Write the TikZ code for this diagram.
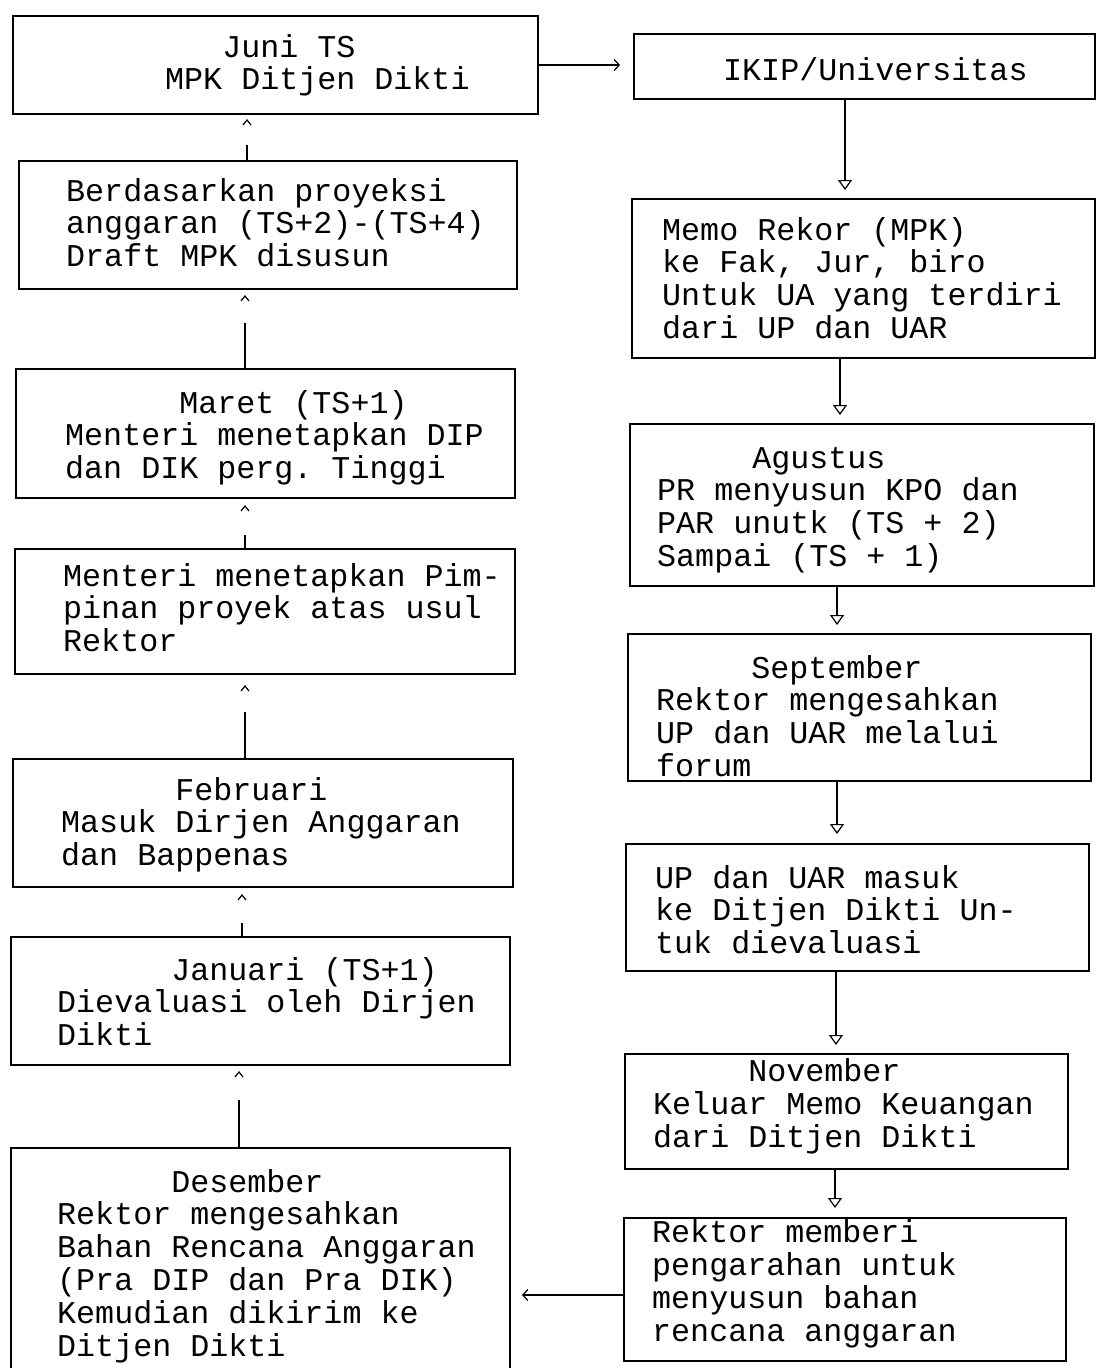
\documentclass[tikz,border=0pt]{standalone}
\usepackage{fontspec}
\newfontfamily\monofnt{Liberation Mono}
\usetikzlibrary{arrows.meta}
\frenchspacing
\tikzset{
  box/.style={draw, line width=1.6pt, inner sep=0pt, anchor=north west},
  txt/.style={font=\monofnt\frenchspacing\fontsize{31.7}{32.8}\selectfont, align=left, inner sep=0pt, anchor=base west},
  conn/.style={line width=1.3pt},
  darr/.style={line width=1.3pt, -{Triangle[open, length=10pt, width=14pt, line width=1.2pt]}},
  harr/.style={line width=1.3pt, -{Straight Barb[length=5pt, width=11pt, line width=1.2pt]}},
  caret/.style={line width=1.2pt},
}
\newcommand\ind[1]{\hspace*{#1\dimexpr0.6em\relax}}
\begin{document}
\begin{tikzpicture}[x=1pt,y=-1pt]
\useasboundingbox (0,0) rectangle (1096,1368);
% left column boxes
\node[box, minimum width=525pt, minimum height=98pt]  (b1) at (12,15) {};
\node[box, minimum width=498pt, minimum height=128pt] (b2) at (18,160) {};
\node[box, minimum width=499pt, minimum height=129pt] (b3) at (15,368) {};
\node[box, minimum width=500pt, minimum height=125pt] (b4) at (14,548) {};
\node[box, minimum width=500pt, minimum height=128pt] (b5) at (12,758) {};
\node[box, minimum width=499pt, minimum height=128pt] (b6) at (10,936) {};
\node[box, minimum width=499pt, minimum height=245pt] (b7) at (10,1147) {};
% right column boxes
\node[box, minimum width=461pt, minimum height=65pt]  (r1) at (633,33) {};
\node[box, minimum width=463pt, minimum height=159pt] (r2) at (631,198) {};
\node[box, minimum width=464pt, minimum height=162pt] (r3) at (629,423) {};
\node[box, minimum width=463pt, minimum height=147pt] (r4) at (627,633) {};
\node[box, minimum width=463pt, minimum height=127pt] (r5) at (625,843) {};
\node[box, minimum width=443pt, minimum height=115pt] (r6) at (624,1053) {};
\node[box, minimum width=442pt, minimum height=143pt] (r7) at (623,1217) {};
% texts (anchored at the baseline of the last line)
\node[txt] (t1) at (165,89.8) {\ind{3}Juni TS\\MPK Ditjen Dikti};
\node[txt] (t2) at (66,266.6) {Berdasarkan proyeksi\\anggaran (TS+2)-(TS+4)\\Draft MPK disusun};
\node[txt] (t3) at (65,478.6) {\ind{6}Maret (TS+1)\\Menteri menetapkan DIP\\dan DIK perg. Tinggi};
\node[txt] (t4) at (63,651.6) {Menteri menetapkan Pim-\\pinan proyek atas usul\\Rektor};
\node[txt] (t5) at (61,865.6) {\ind{6}Februari\\Masuk Dirjen Anggaran\\dan Bappenas};
\node[txt] (t6) at (57,1045.6) {\ind{6}Januari (TS+1)\\Dievaluasi oleh Dirjen\\Dikti};
\node[txt] (t7) at (57,1356) {\ind{6}Desember\\Rektor mengesahkan\\Bahan Rencana Anggaran\\(Pra DIP dan Pra DIK)\\Kemudian dikirim ke\\Ditjen Dikti};
\node[txt] (s1) at (723,80) {IKIP/Universitas};
\node[txt] (s2) at (662,338.4) {Memo Rekor (MPK)\\ke Fak, Jur, biro\\Untuk UA yang terdiri\\dari UP dan UAR};
\node[txt] (s3) at (657,566.4) {\ind{5}Agustus\\PR menyusun KPO dan\\PAR unutk (TS + 2)\\Sampai (TS + 1)};
\node[txt] (s4) at (656,776.4) {\ind{5}September\\Rektor mengesahkan\\UP dan UAR melalui\\forum};
\node[txt] (s5) at (655,953.6) {UP dan UAR masuk\\ke Ditjen Dikti Un-\\tuk dievaluasi};
\node[txt] (s6) at (653,1147) {\ind{5}November\\Keluar Memo Keuangan\\dari Ditjen Dikti};
\node[txt] (s7) at (652,1341) {Rektor memberi\\pengarahan untuk\\menyusun bahan\\rencana anggaran};
% horizontal connectors
\coordinate (h1) at (620,65);
\draw[harr] (b1.east |- h1) -- (h1);
\coordinate (h2) at (522,1295);
\draw[harr] (r7.west |- h2) -- (h2);
% right column connectors
\coordinate (a12) at (845,190);
\coordinate (a23) at (840,415);
\coordinate (a34) at (837,625);
\coordinate (a45) at (837,834);
\coordinate (a56) at (836,1045);
\coordinate (a67) at (835,1208);
\draw[darr] (r1.south -| a12) -- (a12);
\draw[darr] (r2.south -| a23) -- (a23);
\draw[darr] (r3.south -| a34) -- (a34);
\draw[darr] (r4.south -| a45) -- (a45);
\draw[darr] (r5.south -| a56) -- (a56);
\draw[darr] (r6.south -| a67) -- (a67);
% left column connectors (line with detached caret)
\coordinate (l21) at (247,145); \coordinate (k21) at (247,120);
\coordinate (l32) at (245,323); \coordinate (k32) at (245,296);
\coordinate (l43) at (245,535); \coordinate (k43) at (245,506);
\coordinate (l54) at (245,712); \coordinate (k54) at (245,686);
\coordinate (l65) at (242,923); \coordinate (k65) at (242,895);
\coordinate (l76) at (239,1100); \coordinate (k76) at (239,1072);
\draw[conn] (b2.north -| l21) -- (l21);
\draw[conn] (b3.north -| l32) -- (l32);
\draw[conn] (b4.north -| l43) -- (l43);
\draw[conn] (b5.north -| l54) -- (l54);
\draw[conn] (b6.north -| l65) -- (l65);
\draw[conn] (b7.north -| l76) -- (l76);
\foreach \k in {k21,k32,k43,k54,k65,k76}{
  \draw[caret] (\k) +(-4,5) -- (\k) -- +(4,5);
}
\end{tikzpicture}
\end{document}
